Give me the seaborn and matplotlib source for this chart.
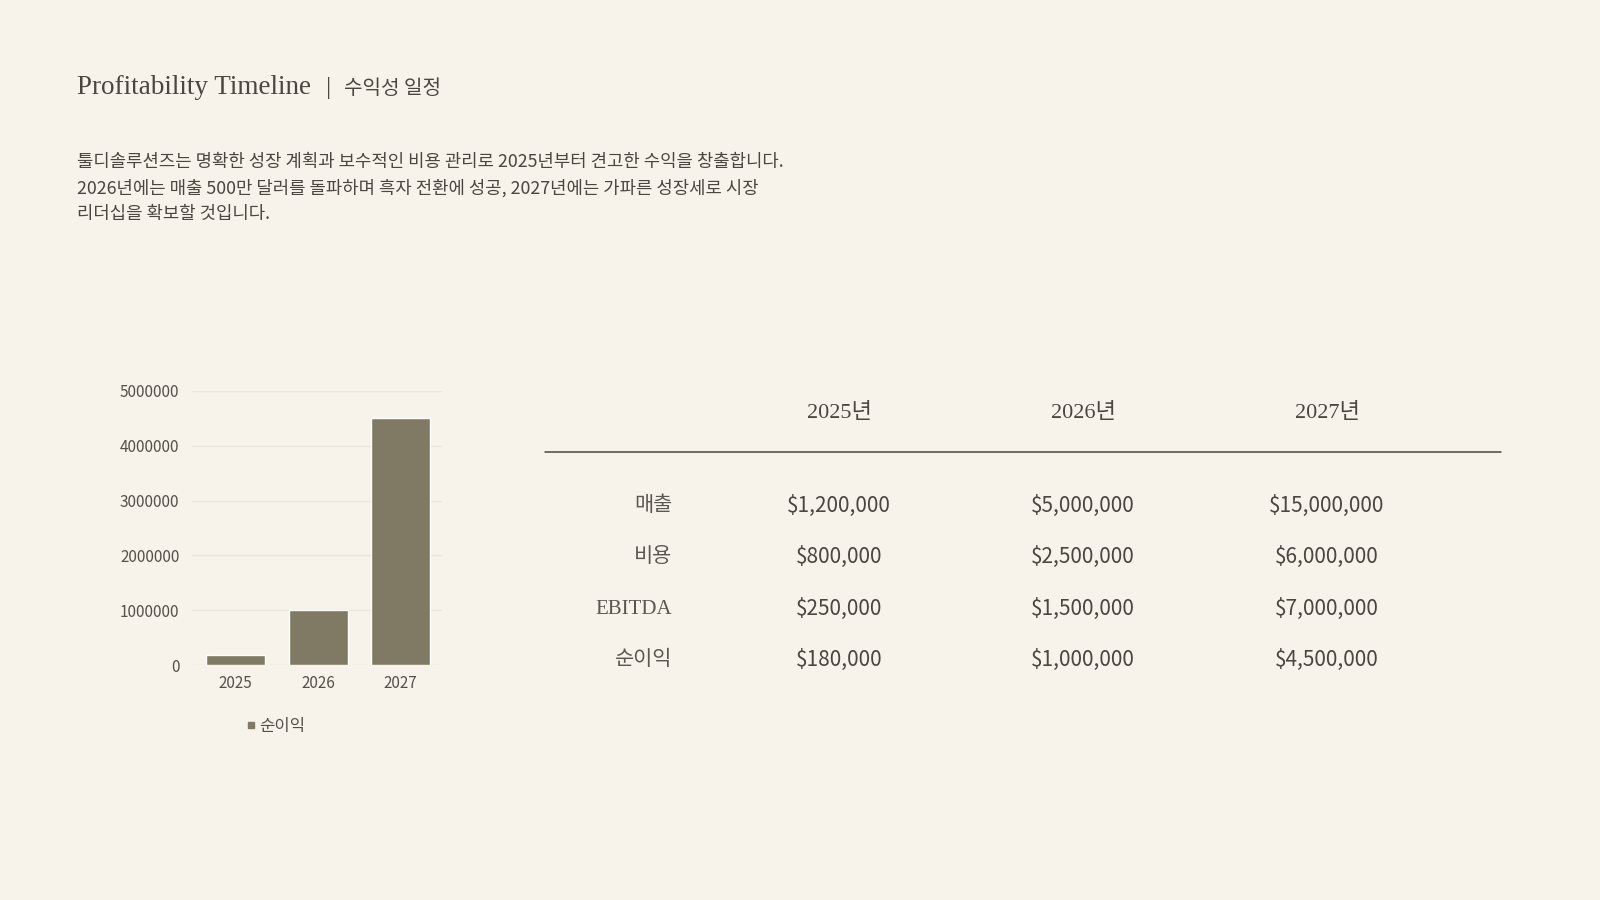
import matplotlib
matplotlib.use("Agg")
import matplotlib.pyplot as plt
import seaborn as sns
import pandas as pd
from matplotlib.lines import Line2D

# ---- data ----
years = ["2025", "2026", "2027"]
net_income = [180000, 1000000, 4500000]
y_ticks = [0, 1000000, 2000000, 3000000, 4000000, 5000000]

table_headers = ["2025년", "2026년", "2027년"]
row_labels = ["매출", "비용", "EBITDA", "순이익"]
revenue = ["$1,200,000", "$5,000,000", "$15,000,000"]
costs = ["$800,000", "$2,500,000", "$6,000,000"]
ebitda = ["$250,000", "$1,500,000", "$7,000,000"]
net_row = ["$180,000", "$1,000,000", "$4,500,000"]

title_en = "Profitability Timeline"
title_ko = "수익성 일정"
paragraph = ["툴디솔루션즈는 명확한 성장 계획과 보수적인 비용 관리로 2025년부터 견고한 수익을 창출합니다.",
             "2026년에는 매출 500만 달러를 돌파하며 흑자 전환에 성공, 2027년에는 가파른 성장세로 시장",
             "리더십을 확보할 것입니다."]
legend_label = "순이익"

BG = "#F7F3EA"
BAR = "#807A64"
TXT = "#4A4640"

sns.set_theme(style="white")
plt.rcParams['font.family'] = ['Noto Sans CJK KR', 'DejaVu Sans']

W, H = 1600, 900
fig = plt.figure(figsize=(16, 9), dpi=100, facecolor=BG)

def fx(x):
    return x / W

def fy(y):
    return 1 - y / H

SERIF = ['Liberation Serif', 'Noto Sans CJK KR', 'DejaVu Sans']
SANS = ['Noto Sans CJK KR', 'DejaVu Sans']

# ---- title ----
t = fig.text(fx(77), fy(87), title_en, family=SERIF, fontsize=19.5, color=TXT, va='center', ha='left')
fig.canvas.draw()
bb = t.get_window_extent()
x_end = bb.x1
fig.text((x_end + 15) / W, fy(88), "|", family=SANS, fontsize=14, color=TXT, va='center', ha='left')
fig.text((x_end + 33) / W, fy(88), title_ko, family=SANS, fontsize=14.5, color=TXT, va='center', ha='left')

# ---- paragraph ----
for i, line in enumerate(paragraph):
    fig.text(fx(77), fy(162 + i * 26), line, family=SANS, fontsize=12.8, color=TXT, va='center', ha='left')

# ---- bar chart ----
ax = fig.add_axes([fx(192), fy(665), fx(442 - 192), (665 - 391) / H])
ax.set_facecolor(BG)
df = pd.DataFrame({"year": years, "value": net_income})
sns.barplot(data=df, x="year", y="value", color=BAR, width=0.72, ax=ax, saturation=1)
ax.set_ylim(0, 5000000)
ax.set_yticks(y_ticks)
ax.set_yticklabels([str(v) for v in y_ticks])
ax.set_xlim(-0.53, 2.5)
ax.set_xlabel("")
ax.set_ylabel("")
ax.grid(axis='y', color='#ECE7DC', linewidth=1)
ax.set_axisbelow(True)
for s in ax.spines.values():
    s.set_visible(False)
ax.tick_params(axis='both', length=0, labelsize=11, labelcolor='#555049')
ax.tick_params(axis='y', pad=9)
ax.tick_params(axis='x', pad=7)
for lab in ax.get_xticklabels() + ax.get_yticklabels():
    lab.set_family(SANS)

handle = Line2D([0], [0], marker='s', color='none', markerfacecolor=BAR, markeredgecolor=BAR, markersize=4)
leg = ax.legend([handle], [legend_label], loc='center', bbox_to_anchor=(fx(276), fy(726)),
                bbox_transform=fig.transFigure, frameon=False, handlelength=0.6, handletextpad=0.2,
                prop={'family': SANS, 'size': 12})
for txt in leg.get_texts():
    txt.set_color('#555049')

# ---- table ----
col_x = [839, 1083, 1327]
for x, h in zip(col_x, table_headers):
    fig.text(fx(x), fy(413), h, family=SERIF, fontsize=16, color=TXT, ha='center', va='center')
fig.add_artist(Line2D([fx(545), fx(1501)], [fy(452), fy(452)], color='#4A4640', linewidth=1.1))

rows = [revenue, costs, ebitda, net_row]
row_y = [506, 557, 609, 660]
for ry, lab, vals in zip(row_y, row_labels, rows):
    fig.text(fx(672), fy(ry), lab, family=SERIF, fontsize=15, color='#5A5650', ha='right', va='center')
    for x, v in zip(col_x, vals):
        fig.text(fx(x), fy(ry), v, family=SANS, fontsize=15, color=TXT, ha='center', va='center')

fig.savefig("out.png", dpi=100, facecolor=BG)
